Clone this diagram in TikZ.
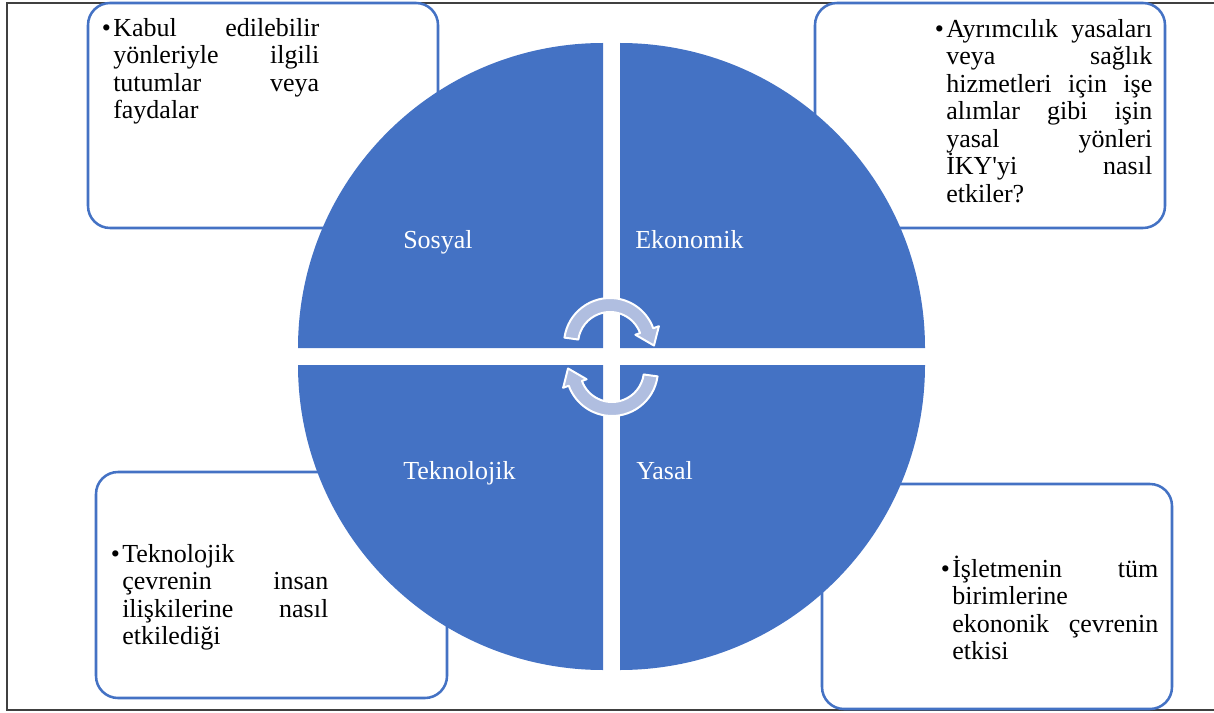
\documentclass[tikz,border=0pt]{standalone}
\usepackage{fontspec}
\setmainfont{Liberation Serif}[Ligatures=TeXOff]
\usetikzlibrary{calc}
\definecolor{qblue}{HTML}{4472C4}
\definecolor{arrowfill}{HTML}{B0BEE0}
\newcommand{\jl}[1]{\makebox[\linewidth][s]{#1}}
\newcommand{\bul}{\strut\llap{\textbullet\hspace{1.8pt}}}
\tikzset{
  frame/.style={draw=black!75, line width=1pt},
  infobox/.style={draw=qblue, line width=1.9pt, fill=white, rounded corners=16.5pt},
  quad/.style={fill=qblue},
  cyc/.style={fill=arrowfill, draw=white, line width=1.5pt, line join=round},
  txt/.style={inner sep=0pt, text width=154.5pt, anchor=north west, align=justify,
    font=\fontsize{19.5}{20.6}\selectfont},
  qlabel/.style={inner sep=0pt, anchor=base west, text=white, font=\fontsize{19.5}{20.6}\selectfont}
}
\begin{document}
\begin{tikzpicture}[x=0.75pt, y=-0.75pt]
\useasboundingbox (0,0) rectangle (1214,713);
% outer frame
\draw[frame] (1214,3) -- (7,3) -- (7,710) -- (1214,710);
% boxes
\draw[infobox] (88,3) rectangle (438,228);
\draw[infobox] (815,3) rectangle (1165,228);
\draw[infobox] (96,472) rectangle (447,698);
\draw[infobox] (822,484) rectangle (1172,709);
% quadrants
\coordinate (qtl) at (603,348);
\coordinate (qtr) at (620,348);
\coordinate (qbl) at (603,365);
\coordinate (qbr) at (620,365);
\fill[quad] (qtl) -- ++(180:305) arc[start angle=180, end angle=270, radius=305] -- cycle;
\fill[quad] (qtr) -- ++(270:305) arc[start angle=270, end angle=360, radius=305] -- cycle;
\fill[quad] (qbr) -- ++(0:305) arc[start angle=0, end angle=90, radius=305] -- cycle;
\fill[quad] (qbl) -- ++(90:305) arc[start angle=90, end angle=180, radius=305] -- cycle;
% cycle arrows
\coordinate (cu) at (610,344);
\coordinate (cl) at (612,370);
\path[cyc] ($(cu)+(188:46)$) arc[start angle=188, end angle=340, radius=46]
  -- ($(cu)+(340:52)$) -- ($(cu)+(2:44)$) -- ($(cu)+(340:27)$) -- ($(cu)+(340:32)$)
  arc[start angle=340, end angle=188, radius=32] -- cycle;
\path[cyc] ($(cl)+(8:46)$) arc[start angle=8, end angle=160, radius=46]
  -- ($(cl)+(160:52)$) -- ($(cl)+(182:44)$) -- ($(cl)+(160:27)$) -- ($(cl)+(160:32)$)
  arc[start angle=160, end angle=8, radius=32] -- cycle;
% quadrant labels
\node[qlabel] (lsos) at (403,248) {Sosyal};
\node[qlabel] (leko) at (635,248) {Ekonomik};
\node[qlabel] (ltek) at (403,479) {Teknolojik};
\node[qlabel] (lyas) at (636,479) {Yasal};
% box texts (first baseline minus strut height 19.2px)
\node[txt] (t1) at (113,16.8) {\bul\jl{Kabul edilebilir}\\\jl{yönleriyle ilgili}\\\jl{tutumlar veya}\\faydalar};
\node[txt] (t2) at (946,17.8) {\bul\jl{Ayrımcılık yasaları}\\\jl{veya sağlık}\\\jl{hizmetleri için işe}\\\jl{alımlar gibi işin}\\\jl{yasal yönleri}\\\jl{İKY'yi nasıl}\\etkiler?};
\node[txt] (t3) at (122,542.8) {\bul Teknolojik\\\jl{çevrenin insan}\\\jl{ilişkilerine nasıl}\\etkilediği};
\node[txt] (t4) at (952,555.8) {\bul\jl{İşletmenin tüm}\\birimlerine\\\jl{ekononik çevrenin}\\etkisi};
\end{tikzpicture}
\end{document}
